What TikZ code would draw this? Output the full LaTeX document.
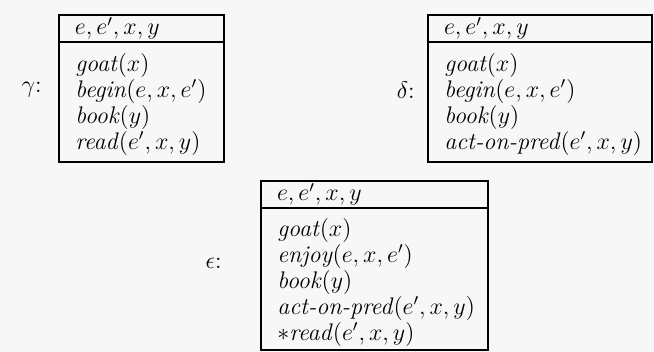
\documentclass[tikz,border=0pt]{standalone}
\usetikzlibrary{positioning}

\newcommand{\pred}[1]{\textit{#1}}

\tikzset{
  drshead/.style={draw,line width=0.8pt,anchor=north west,outer sep=0pt,
    minimum height=13.5pt,inner xsep=8pt,inner ysep=0pt,align=left,
    font=\fontsize{12}{12}\selectfont},
  drsbody/.style={draw,line width=0.8pt,outer sep=0pt,inner sep=0pt},
  drsconds/.style={anchor=north west,inner sep=0pt,align=left,text width=104pt,
    font={\fontsize{12}{11.75}\selectfont}},
  drslabel/.style={anchor=east,inner sep=0pt,font=\fontsize{12}{12}\selectfont}
}

\begin{document}
\begin{tikzpicture}
  \useasboundingbox[fill=black!3] (0,0) rectangle (327pt,176pt);

  % gamma
  \node[drshead,text width=66.5pt] (gh) at (29.5pt,168.5pt) {$e, e', x, y$};
  \node[drsbody,minimum width=82.5pt,minimum height=60pt,below=0pt of gh] (gb) {};
  \node[drsconds] (gc) at ([xshift=8pt,yshift=-5.5pt]gb.north west)
    {\pred{goat}$(x)$\\ \pred{begin}$(e, x, e')$\\ \pred{book}$(y)$\\ \pred{read}$(e', x, y)$};
  \node[drslabel] (gl) at (21pt,131pt) {$\gamma$:};

  % delta
  \node[drshead,text width=96pt] (dh) at (214pt,168.5pt) {$e, e', x, y$};
  \node[drsbody,minimum width=112pt,minimum height=60pt,below=0pt of dh] (db) {};
  \node[drsconds] (dc) at ([xshift=8pt,yshift=-5.5pt]db.north west)
    {\pred{goat}$(x)$\\ \pred{begin}$(e, x, e')$\\ \pred{book}$(y)$\\ \pred{act-on-pred}$(e', x, y)$};
  \node[drslabel] (dl) at (207.5pt,131pt) {$\delta$:};

  % epsilon
  \node[drshead,text width=97.5pt] (eh) at (130.5pt,85.5pt) {$e, e', x, y$};
  \node[drsbody,minimum width=113.5pt,minimum height=71pt,below=0pt of eh] (eb) {};
  \node[drsconds,font={\fontsize{12}{11.25}\selectfont}] (ec) at ([xshift=8pt,yshift=-5pt]eb.north west)
    {\pred{goat}$(x)$\\ \pred{enjoy}$(e, x, e')$\\ \pred{book}$(y)$\\
     \pred{act-on-pred}$(e', x, y)$\\ $*$\pred{read}$(e', x, y)$};
  \node[drslabel] (el) at (111pt,44.5pt) {$\epsilon$:};
\end{tikzpicture}
\end{document}
